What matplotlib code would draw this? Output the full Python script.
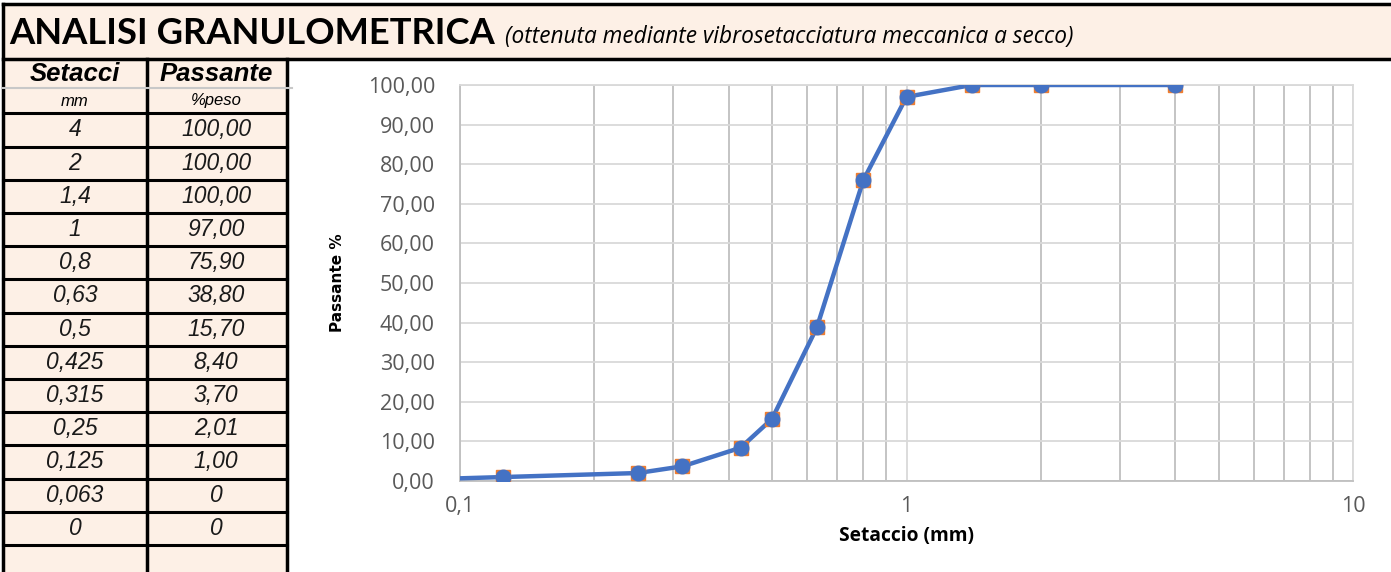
import numpy as np
import matplotlib.pyplot as plt
from matplotlib.patches import Rectangle
from matplotlib.ticker import FixedLocator, FuncFormatter, LogLocator, NullFormatter

# dati granulometrici
setacci = [4, 2, 1.4, 1, 0.8, 0.63, 0.5, 0.425, 0.315, 0.25, 0.125, 0.063, 0]
passante = [100.00, 100.00, 100.00, 97.00, 75.90, 38.80, 15.70, 8.40, 3.70, 2.01, 1.00, 0, 0]
setacci_lbl = ['4', '2', '1,4', '1', '0,8', '0,63', '0,5', '0,425', '0,315', '0,25', '0,125', '0,063', '0']
passante_lbl = ['100,00', '100,00', '100,00', '97,00', '75,90', '38,80', '15,70', '8,40', '3,70', '2,01', '1,00', '0', '0']

W, H = 1391, 572
peach = '#fdf0e6'
blue = '#4472c4'
orange = '#ed7d31'

fig = plt.figure(figsize=(W / 100, H / 100), dpi=100)

# sfondo: intestazione e tabella (coordinate in pixel)
bg = fig.add_axes([0, 0, 1, 1])
bg.set_xlim(0, W)
bg.set_ylim(H, 0)
bg.axis('off')

bg.add_patch(Rectangle((3, 4), W, 54, facecolor=peach, edgecolor='none'))
bg.add_patch(Rectangle((3, 58), 284, H, facecolor=peach, edgecolor='none'))
bg.plot([3, W], [4, 4], color='black', lw=2.5)
bg.plot([3, W], [59, 59], color='black', lw=2.5)
bg.plot([3, 3], [4, H], color='black', lw=2.5)
bg.plot([147, 147], [59, H], color='black', lw=2.5)
bg.plot([287, 287], [59, H], color='black', lw=2.5)

bg.text(9, 33, 'ANALISI GRANULOMETRICA', fontfamily='Lato', fontweight='bold',
        fontsize=26.2, va='center', ha='left', color='black')
bg.text(505, 37, '(ottenuta mediante vibrosetacciatura meccanica a secco)', fontfamily='Open Sans',
        fontstyle='italic', fontsize=16.3, va='center', ha='left', color='black')

c1, c2 = 75, 216
tf = 'Liberation Sans'
bg.text(c1, 74, 'Setacci', fontfamily=tf, fontstyle='italic', fontweight='bold', fontsize=18.5, ha='center', va='center')
bg.text(c2, 74, 'Passante', fontfamily=tf, fontstyle='italic', fontweight='bold', fontsize=18.5, ha='center', va='center')
bg.plot([3, 292], [88, 88], color='#c8c8c8', lw=1.5)
bg.text(c1, 101, 'mm', fontfamily=tf, fontstyle='italic', fontsize=12, ha='center', va='center')
bg.text(c2, 101, '%peso', fontfamily=tf, fontstyle='italic', fontsize=12, ha='center', va='center')

y0, rh = 113.3, 33.2
bg.plot([3, 287], [y0, y0], color='black', lw=2.2)
for i in range(14):
    top = y0 + i * rh
    if i < len(setacci_lbl):
        bg.text(c1, top + rh / 2, setacci_lbl[i], fontfamily=tf, fontstyle='italic',
                fontsize=16.5, ha='center', va='center', color='#1a1a1a')
        bg.text(c2, top + rh / 2, passante_lbl[i], fontfamily=tf, fontstyle='italic',
                fontsize=16.5, ha='center', va='center', color='#1a1a1a')
    bg.plot([3, 287], [top + rh, top + rh], color='black', lw=2.2)

# grafico
ax = fig.add_axes([460 / W, (H - 481) / H, (1353 - 460) / W, (481 - 85) / H])
x = np.array(setacci, dtype=float)
y = np.array(passante, dtype=float)
m = x > 0
ax.plot(x[m], y[m], color=blue, lw=3.2, zorder=3)
ax.plot(x[m], y[m], ls='none', marker='s', ms=10, mfc=orange, mec=orange, zorder=4)
ax.plot(x[m], y[m], ls='none', marker='o', ms=10.5, mfc=blue, mec=blue, zorder=5)

ax.set_xscale('log')
ax.set_xlim(0.1, 10)
ax.set_ylim(0, 100)
ax.xaxis.set_major_locator(FixedLocator([0.1, 1, 10]))
ax.xaxis.set_minor_locator(LogLocator(base=10, subs=np.arange(2, 10)))
ax.xaxis.set_minor_formatter(NullFormatter())
ax.xaxis.set_major_formatter(FuncFormatter(lambda v, p: ('%g' % v).replace('.', ',')))
ax.set_yticks(np.arange(0, 101, 10))
ax.yaxis.set_major_formatter(FuncFormatter(lambda v, p: ('%.2f' % v).replace('.', ',')))

ax.grid(True, which='major', axis='y', color='#d9d9d9', lw=1.3)
ax.grid(True, which='major', axis='x', color='#d9d9d9', lw=1.3)
ax.grid(True, which='minor', axis='x', color='#bfbfbf', lw=1.3)
ax.set_axisbelow(True)
for s in ax.spines.values():
    s.set_color('#d9d9d9')
    s.set_linewidth(1.3)
ax.spines['left'].set_color('#bfbfbf')
ax.spines['bottom'].set_color('#bfbfbf')
ax.tick_params(which='both', length=0, labelsize=15.5, labelcolor='#595959')
ax.tick_params(axis='x', pad=11)
ax.tick_params(axis='y', pad=18)
for t in ax.get_xticklabels() + ax.get_yticklabels():
    t.set_fontfamily('Open Sans')

ax.set_xlabel('Setaccio (mm)', fontfamily='Open Sans', fontweight='bold', fontsize=13.8, labelpad=6)
ax.set_ylabel('Passante %', fontfamily='Liberation Sans Narrow', fontweight='bold', fontsize=11, labelpad=16)

fig.savefig('out.png', dpi=100)
